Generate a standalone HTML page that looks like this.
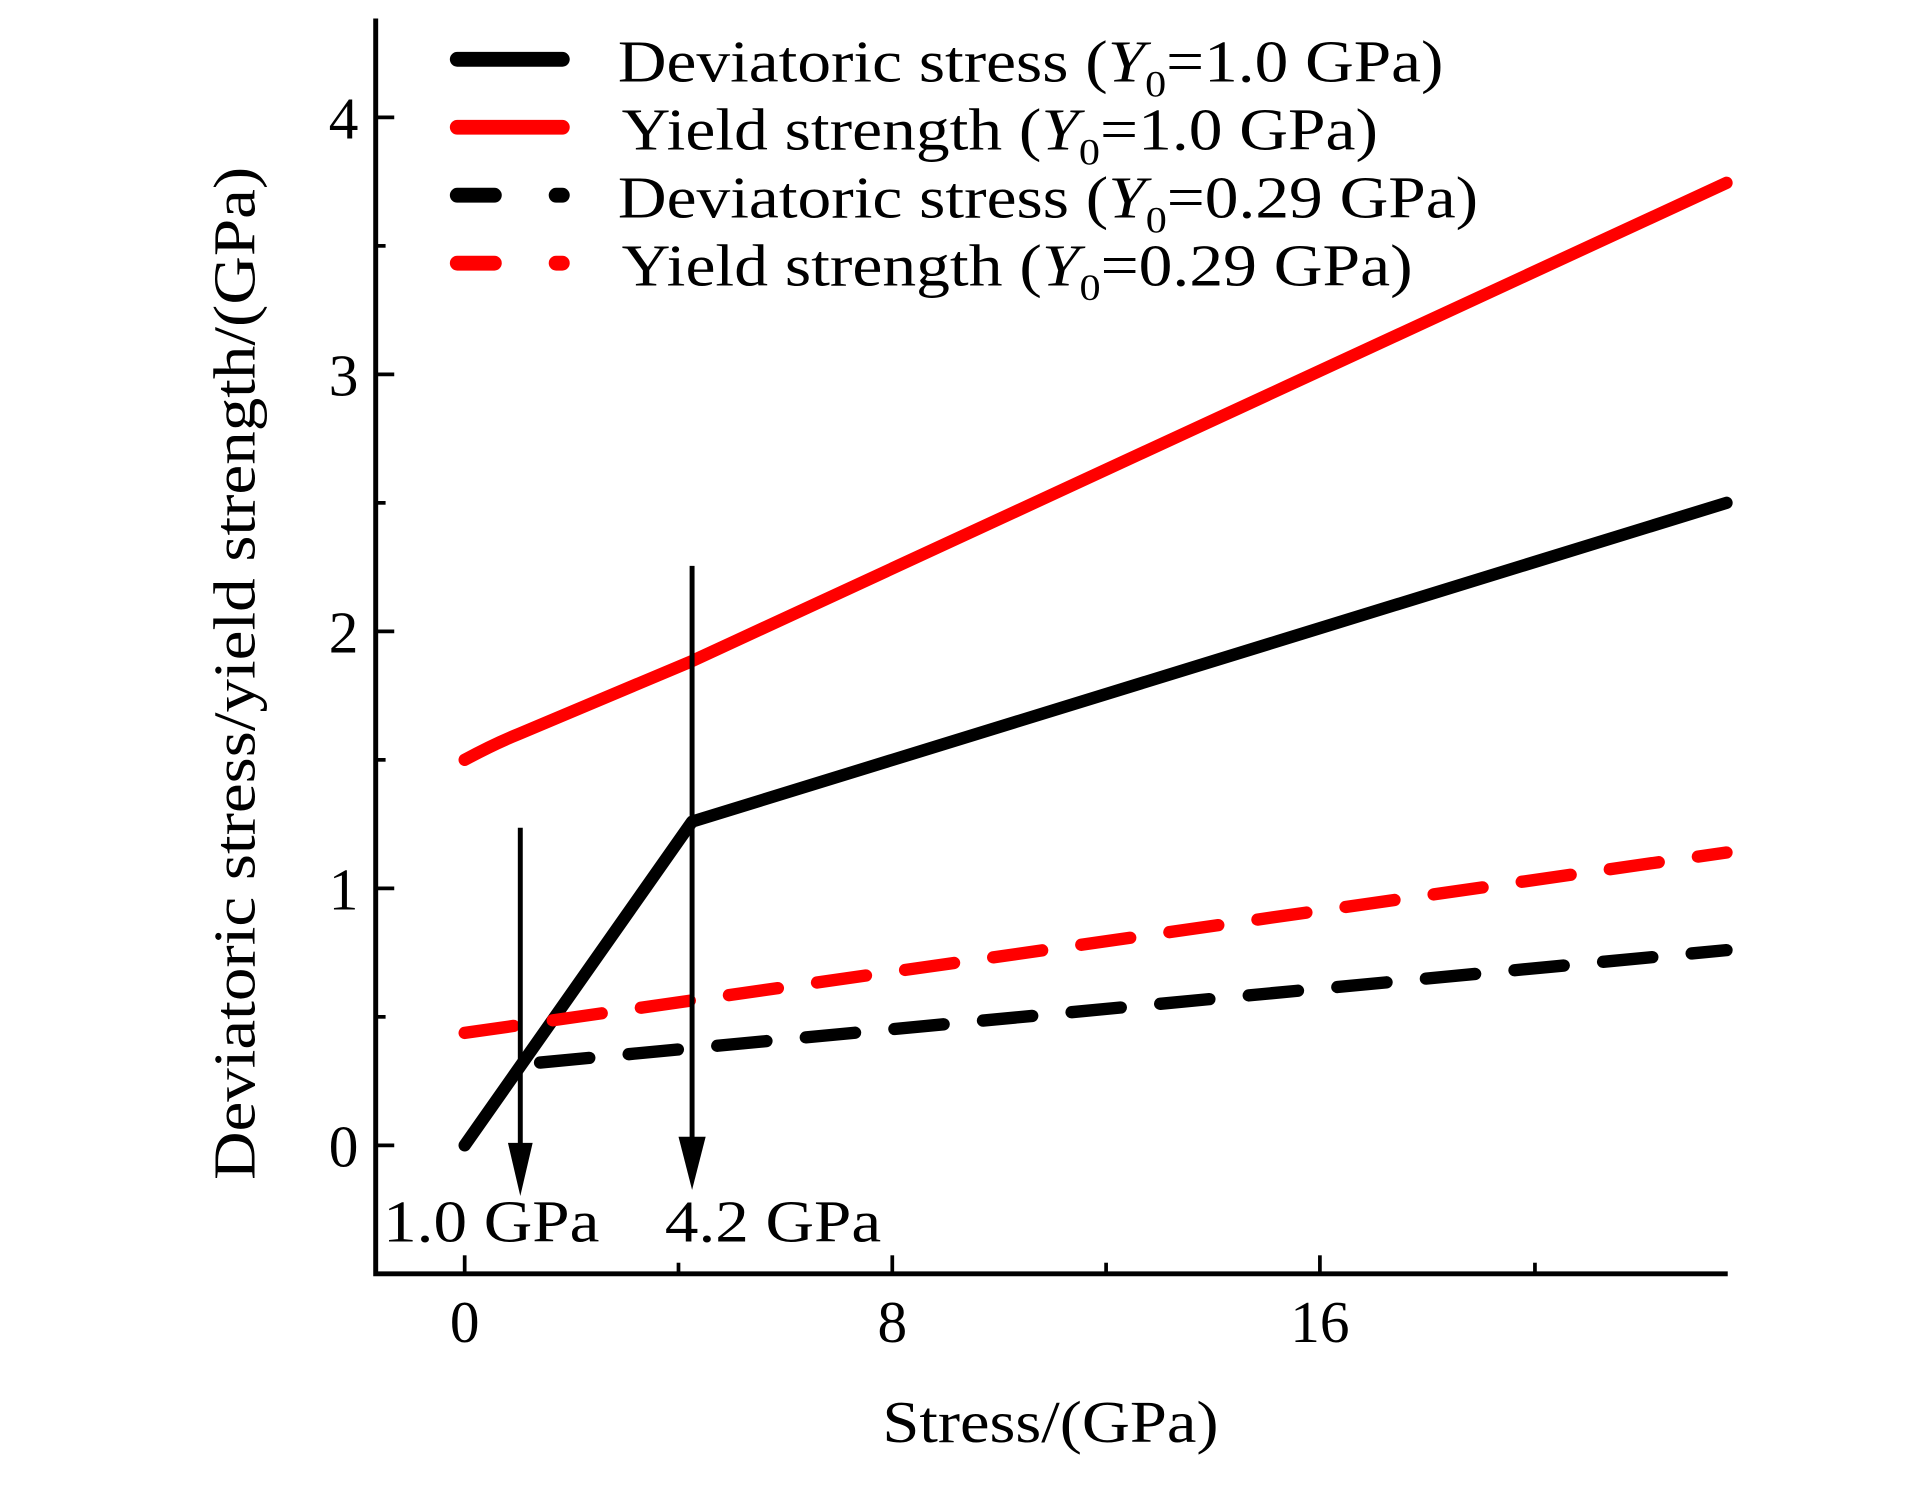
<!DOCTYPE html>
<html><head><meta charset="utf-8"><style>html,body{margin:0;padding:0;background:#fff}svg{display:block}</style></head>
<body>
<svg width="1923" height="1495" viewBox="0 0 1556 1210" preserveAspectRatio="none" xmlns="http://www.w3.org/2000/svg" font-family="Liberation Serif, serif">
<rect width="1556" height="1210" fill="#fff"/>
<path d="M304,15 V1031 H1398" fill="none" stroke="#000" stroke-width="4"/>
<g stroke="#000" stroke-width="3">
<line x1="304" y1="927" x2="319" y2="927"/><line x1="304" y1="719" x2="319" y2="719"/><line x1="304" y1="511" x2="319" y2="511"/><line x1="304" y1="303" x2="319" y2="303"/><line x1="304" y1="95" x2="319" y2="95"/>
<line x1="304" y1="823" x2="312" y2="823"/><line x1="304" y1="615" x2="312" y2="615"/><line x1="304" y1="407" x2="312" y2="407"/><line x1="304" y1="199" x2="312" y2="199"/>
<line x1="376" y1="1031" x2="376" y2="1016"/><line x1="722" y1="1031" x2="722" y2="1016"/><line x1="1068" y1="1031" x2="1068" y2="1016"/>
<line x1="549" y1="1031" x2="549" y2="1022"/><line x1="895" y1="1031" x2="895" y2="1022"/><line x1="1242" y1="1031" x2="1242" y2="1022"/>
</g>
<g font-size="48" text-anchor="end">
<text x="290" y="944">0</text><text x="290" y="736">1</text><text x="290" y="528">2</text><text x="290" y="320">3</text><text x="290" y="112">4</text>
</g>
<g font-size="48" text-anchor="middle">
<text x="376" y="1086">0</text><text x="722" y="1086">8</text><text x="1068" y="1086">16</text>
<text x="850" y="1167" textLength="272" lengthAdjust="spacingAndGlyphs">Stress/(GPa)</text>
</g>
<text transform="translate(206,545) rotate(-90)" font-size="48" text-anchor="middle" textLength="820" lengthAdjust="spacingAndGlyphs">Deviatoric stress/yield strength/(GPa)</text>
<g fill="none" stroke-width="10" stroke-linecap="round" stroke-linejoin="round">
<path stroke="#f00" d="M376,615 Q400,602 420,594 L560,535 L1397,148"/>
<polyline stroke="#000" points="376,927 560,665 1397,407"/>
<line stroke="#f00" stroke-dasharray="40,32" x1="376" y1="836" x2="1397" y2="690"/>
<line stroke="#000" stroke-dasharray="40,32" x1="437" y1="860" x2="1397" y2="769"/>
</g>
<g stroke="#000" stroke-width="4"><line x1="421" y1="670" x2="421" y2="935"/><line x1="560" y1="458" x2="560" y2="930"/></g>
<polygon points="411,925 431,925 421,968" fill="#000"/>
<polygon points="549,920 571,920 560,963" fill="#000"/>
<g font-size="48">
<text x="310" y="1005" textLength="175" lengthAdjust="spacingAndGlyphs">1.0 GPa</text>
<text x="538" y="1005" textLength="175" lengthAdjust="spacingAndGlyphs">4.2 GPa</text>
</g>
<g stroke-width="12" stroke-linecap="round">
<line x1="370" y1="48" x2="455" y2="48" stroke="#000"/>
<line x1="370" y1="103" x2="455" y2="103" stroke="#f00"/>
<line x1="370" y1="158" x2="400" y2="158" stroke="#000"/><line x1="450" y1="158" x2="455" y2="158" stroke="#000"/>
<line x1="370" y1="213" x2="400" y2="213" stroke="#f00"/><line x1="450" y1="213" x2="455" y2="213" stroke="#f00"/>
</g>
<g font-size="48">
<text x="500" y="66" textLength="668" lengthAdjust="spacingAndGlyphs">Deviatoric stress (<tspan font-style="italic">Y</tspan><tspan font-size="30" dy="12">0</tspan><tspan dy="-12">=1.0 GPa)</tspan></text>
<text x="503" y="121" textLength="612" lengthAdjust="spacingAndGlyphs">Yield strength (<tspan font-style="italic">Y</tspan><tspan font-size="30" dy="12">0</tspan><tspan dy="-12">=1.0 GPa)</tspan></text>
<text x="500" y="176" textLength="696" lengthAdjust="spacingAndGlyphs">Deviatoric stress (<tspan font-style="italic">Y</tspan><tspan font-size="30" dy="12">0</tspan><tspan dy="-12">=0.29 GPa)</tspan></text>
<text x="503" y="231" textLength="640" lengthAdjust="spacingAndGlyphs">Yield strength (<tspan font-style="italic">Y</tspan><tspan font-size="30" dy="12">0</tspan><tspan dy="-12">=0.29 GPa)</tspan></text>
</g>
</svg>
</body></html>
